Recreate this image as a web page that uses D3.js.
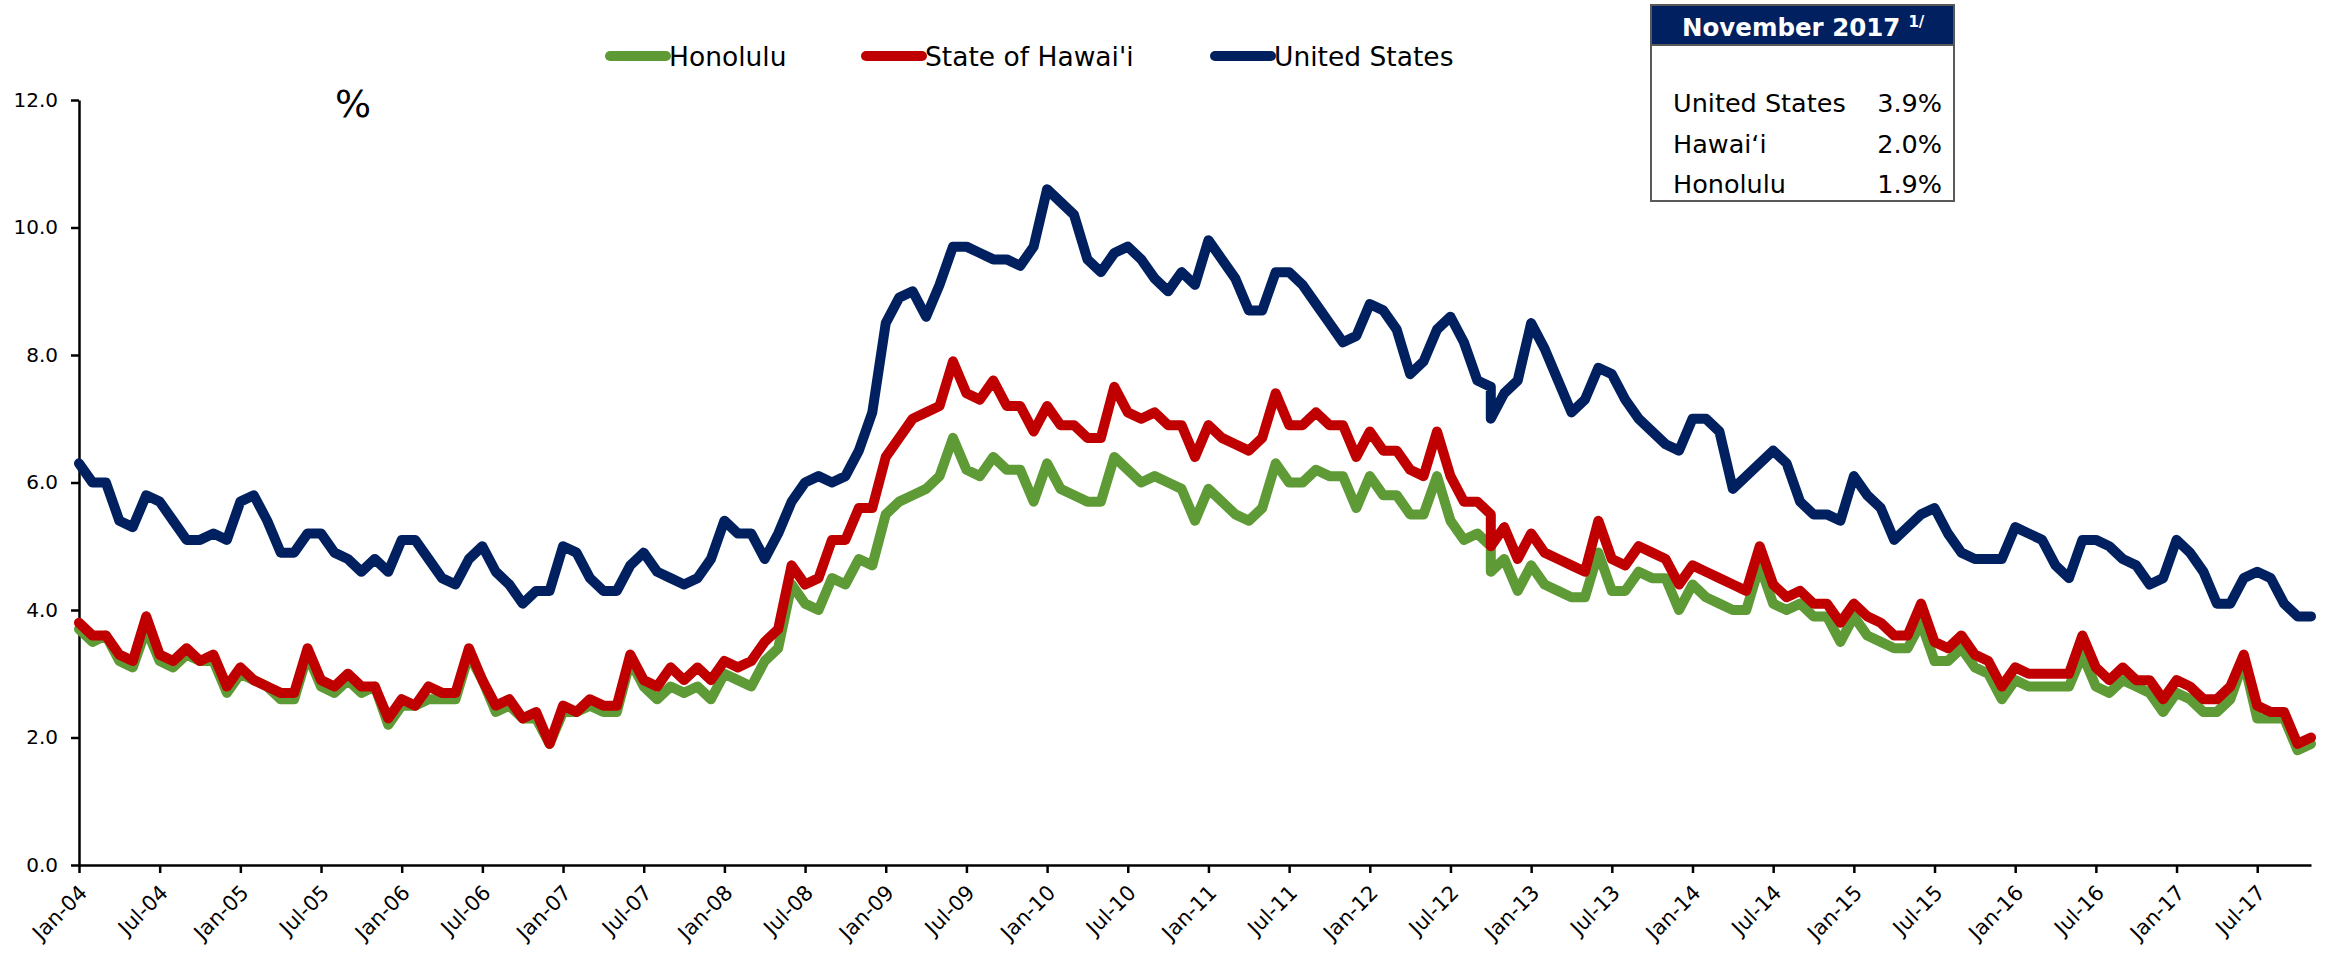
<!DOCTYPE html>
<html lang="en">
<head>
<meta charset="utf-8">
<title>Unemployment Rate: Honolulu, State of Hawai'i, United States</title>
<script src="https://d3js.org/d3.v7.min.js"></script>
<style>
  body { margin: 0; background: #fff; }
  svg { font-family: "DejaVu Sans", sans-serif; display: block; }
</style>
</head>
<body>
<svg id="chart"></svg>
<script>
// monthly rates, not seasonally adjusted, Jan-04 .. Nov-17
// (the sheet carries Oct-12 twice, so 2012 has 13 entries)
const usRate = [
  6.3, 6.0, 6.0, 5.4, 5.3, 5.8, 5.7, 5.4, 5.1, 5.1, 5.2, 5.1,
  5.7, 5.8, 5.4, 4.9, 4.9, 5.2, 5.2, 4.9, 4.8, 4.6, 4.8, 4.6,
  5.1, 5.1, 4.8, 4.5, 4.4, 4.8, 5.0, 4.6, 4.4, 4.1, 4.3, 4.3,
  5.0, 4.9, 4.5, 4.3, 4.3, 4.7, 4.9, 4.6, 4.5, 4.4, 4.5, 4.8,
  5.4, 5.2, 5.2, 4.8, 5.2, 5.7, 6.0, 6.1, 6.0, 6.1, 6.5, 7.1,
  8.5, 8.9, 9.0, 8.6, 9.1, 9.7, 9.7, 9.6, 9.5, 9.5, 9.4, 9.7,
  10.6, 10.4, 10.2, 9.5, 9.3, 9.6, 9.7, 9.5, 9.2, 9.0, 9.3, 9.1,
  9.8, 9.5, 9.2, 8.7, 8.7, 9.3, 9.3, 9.1, 8.8, 8.5, 8.2, 8.3,
  8.8, 8.7, 8.4, 7.7, 7.9, 8.4, 8.6, 8.2, 7.6, 7.5, 7.0, 7.4, 7.6,
  8.5, 8.1, 7.6, 7.1, 7.3, 7.8, 7.7, 7.3, 7.0, 6.8, 6.6, 6.5,
  7.0, 7.0, 6.8, 5.9, 6.1, 6.3, 6.5, 6.3, 5.7, 5.5, 5.5, 5.4,
  6.1, 5.8, 5.6, 5.1, 5.3, 5.5, 5.6, 5.2, 4.9, 4.8, 4.8, 4.8,
  5.3, 5.2, 5.1, 4.7, 4.5, 5.1, 5.1, 5.0, 4.8, 4.7, 4.4, 4.5,
  5.1, 4.9, 4.6, 4.1, 4.1, 4.5, 4.6, 4.5, 4.1, 3.9, 3.9
];
const hawaiiRate = [
  3.8, 3.6, 3.6, 3.3, 3.2, 3.9, 3.3, 3.2, 3.4, 3.2, 3.3, 2.8,
  3.1, 2.9, 2.8, 2.7, 2.7, 3.4, 2.9, 2.8, 3.0, 2.8, 2.8, 2.3,
  2.6, 2.5, 2.8, 2.7, 2.7, 3.4, 2.9, 2.5, 2.6, 2.3, 2.4, 1.9,
  2.5, 2.4, 2.6, 2.5, 2.5, 3.3, 2.9, 2.8, 3.1, 2.9, 3.1, 2.9,
  3.2, 3.1, 3.2, 3.5, 3.7, 4.7, 4.4, 4.5, 5.1, 5.1, 5.6, 5.6,
  6.4, 6.7, 7.0, 7.1, 7.2, 7.9, 7.4, 7.3, 7.6, 7.2, 7.2, 6.8,
  7.2, 6.9, 6.9, 6.7, 6.7, 7.5, 7.1, 7.0, 7.1, 6.9, 6.9, 6.4,
  6.9, 6.7, 6.6, 6.5, 6.7, 7.4, 6.9, 6.9, 7.1, 6.9, 6.9, 6.4,
  6.8, 6.5, 6.5, 6.2, 6.1, 6.8, 6.1, 5.7, 5.7, 5.5, 5.0, 5.3, 4.8,
  5.2, 4.9, 4.8, 4.7, 4.6, 5.4, 4.8, 4.7, 5.0, 4.9, 4.8, 4.4,
  4.7, 4.6, 4.5, 4.4, 4.3, 5.0, 4.4, 4.2, 4.3, 4.1, 4.1, 3.8,
  4.1, 3.9, 3.8, 3.6, 3.6, 4.1, 3.5, 3.4, 3.6, 3.3, 3.2, 2.8,
  3.1, 3.0, 3.0, 3.0, 3.0, 3.6, 3.1, 2.9, 3.1, 2.9, 2.9, 2.6,
  2.9, 2.8, 2.6, 2.6, 2.8, 3.3, 2.5, 2.4, 2.4, 1.9, 2.0
];
const honoluluRate = [
  3.7, 3.5, 3.6, 3.2, 3.1, 3.7, 3.2, 3.1, 3.3, 3.2, 3.2, 2.7,
  3.0, 2.9, 2.8, 2.6, 2.6, 3.3, 2.8, 2.7, 2.9, 2.7, 2.8, 2.2,
  2.5, 2.5, 2.6, 2.6, 2.6, 3.3, 2.9, 2.4, 2.5, 2.3, 2.3, 1.9,
  2.4, 2.4, 2.5, 2.4, 2.4, 3.2, 2.8, 2.6, 2.8, 2.7, 2.8, 2.6,
  3.0, 2.9, 2.8, 3.2, 3.4, 4.4, 4.1, 4.0, 4.5, 4.4, 4.8, 4.7,
  5.5, 5.7, 5.8, 5.9, 6.1, 6.7, 6.2, 6.1, 6.4, 6.2, 6.2, 5.7,
  6.3, 5.9, 5.8, 5.7, 5.7, 6.4, 6.2, 6.0, 6.1, 6.0, 5.9, 5.4,
  5.9, 5.7, 5.5, 5.4, 5.6, 6.3, 6.0, 6.0, 6.2, 6.1, 6.1, 5.6,
  6.1, 5.8, 5.8, 5.5, 5.5, 6.1, 5.4, 5.1, 5.2, 5.0, 4.6, 4.8, 4.3,
  4.7, 4.4, 4.3, 4.2, 4.2, 4.9, 4.3, 4.3, 4.6, 4.5, 4.5, 4.0,
  4.4, 4.2, 4.1, 4.0, 4.0, 4.7, 4.1, 4.0, 4.1, 3.9, 3.9, 3.5,
  3.9, 3.6, 3.5, 3.4, 3.4, 3.8, 3.2, 3.2, 3.4, 3.1, 3.0, 2.6,
  2.9, 2.8, 2.8, 2.8, 2.8, 3.3, 2.8, 2.7, 2.9, 2.8, 2.7, 2.4,
  2.7, 2.6, 2.4, 2.4, 2.6, 3.2, 2.3, 2.3, 2.3, 1.8, 1.9
];

const tickLabels = [
  "Jan-04", "Jul-04", "Jan-05", "Jul-05", "Jan-06", "Jul-06", "Jan-07",
  "Jul-07", "Jan-08", "Jul-08", "Jan-09", "Jul-09", "Jan-10", "Jul-10",
  "Jan-11", "Jul-11", "Jan-12", "Jul-12", "Jan-13", "Jul-13", "Jan-14",
  "Jul-14", "Jan-15", "Jul-15", "Jan-16", "Jul-16", "Jan-17", "Jul-17"
];
const seriesNames = ["Honolulu", "State of Hawai'i", "United States"];
const seriesColors = ["#5E9A35", "#C00000", "#002060"];
const boxTitle = "November 2017";
const boxLabels = ["United States", "Hawai\u2018i", "Honolulu"];
const boxValues = ["3.9%", "2.0%", "1.9%"];

const width = 2334, height = 954;
const svg = d3.select("#chart").attr("width", width).attr("height", height);

// month position of every value; Oct-12 (index 105) sits twice
const monthIdx = d3.range(167);
monthIdx.splice(106, 0, 105);

const x = d3.scaleLinear().domain([0, 166]).range([79, 2311]);
const y = d3.scaleLinear().domain([0, 12]).range([865, 100]);

// axes
const yAxis = svg.append("g")
    .attr("transform", `translate(${x(0)},0)`)
    .call(d3.axisLeft(y)
        .tickValues(d3.range(0, 12.01, 2))
        .tickFormat(d3.format(".1f"))
        .tickSize(8).tickSizeOuter(0).tickPadding(13));

const xAxis = svg.append("g")
    .attr("transform", `translate(0,${y(0)})`)
    .call(d3.axisBottom(x)
        .tickValues(d3.range(0, 167, 6))
        .tickFormat((d, i) => tickLabels[i])
        .tickSize(8).tickSizeOuter(0));

[yAxis, xAxis].forEach(g => {
    g.select(".domain").attr("stroke", "#000").attr("stroke-width", 2.5);
    g.selectAll(".tick line").attr("stroke", "#000").attr("stroke-width", 2.5);
    g.selectAll("text").attr("fill", "#000")
        .style("font-family", "'DejaVu Sans', sans-serif")
        .style("font-size", "20px");
});

xAxis.selectAll(".tick text")
    .style("font-size", "21px")
    .attr("x", 0).attr("y", 0).attr("dy", 0)
    .attr("text-anchor", "end")
    .attr("transform", "translate(9,29) rotate(-45)");

// "%" unit
svg.append("text")
    .attr("x", 353).attr("y", 117)
    .attr("text-anchor", "middle")
    .style("font-size", "38px")
    .text("%");

// lines, Honolulu below Hawai'i below US
const line = d3.line()
    .x((d, k) => x(monthIdx[k]))
    .y(d => y(d));

[honoluluRate, hawaiiRate, usRate].forEach((vals, s) => {
    svg.append("path")
        .datum(vals)
        .attr("fill", "none")
        .attr("stroke", seriesColors[s])
        .attr("stroke-width", 10)
        .attr("stroke-linejoin", "round")
        .attr("stroke-linecap", "round")
        .attr("d", line);
});

// legend
const legendX = [610, 866, 1215];
const legend = svg.append("g").selectAll("g")
    .data(seriesNames)
    .join("g")
    .attr("transform", (d, i) => `translate(${legendX[i]},56)`);

legend.append("line")
    .attr("x1", 0).attr("x2", 56)
    .attr("stroke", (d, i) => seriesColors[i])
    .attr("stroke-width", 10)
    .attr("stroke-linecap", "round");

legend.append("text")
    .attr("x", 59).attr("y", 10)
    .style("font-size", "26.5px")
    .text(d => d);

// November 2017 box
const box = svg.append("g").attr("transform", "translate(1651,5)");
box.append("rect")
    .attr("width", 303).attr("height", 196)
    .attr("fill", "#fff").attr("stroke", "#595959").attr("stroke-width", 2);
box.append("rect")
    .attr("width", 303).attr("height", 40)
    .attr("fill", "#002060").attr("stroke", "#595959").attr("stroke-width", 2);
const title = box.append("text")
    .attr("x", 31).attr("y", 31)
    .attr("fill", "#fff")
    .style("font-size", "24.5px").style("font-weight", "bold")
    .text(boxTitle);
title.append("tspan")
    .attr("dx", 8).attr("dy", -9)
    .style("font-size", "15px")
    .text("1/");

box.selectAll(".row-label")
    .data(boxLabels)
    .join("text")
    .attr("x", 22)
    .attr("y", (d, i) => 107 + i * 40.5)
    .style("font-size", "25.5px")
    .text(d => d);

box.selectAll(".row-value")
    .data(boxValues)
    .join("text")
    .attr("x", 291)
    .attr("y", (d, i) => 107 + i * 40.5)
    .attr("text-anchor", "end")
    .style("font-size", "25.5px")
    .text(d => d);
</script>
</body>
</html>
